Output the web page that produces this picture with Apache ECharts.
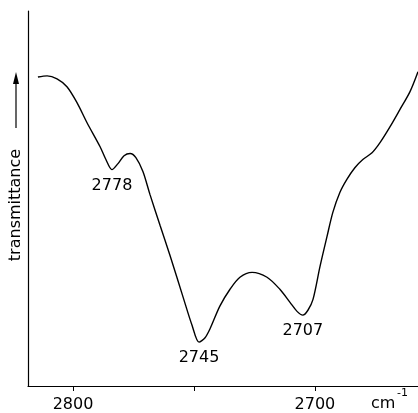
<!DOCTYPE html>
<html><head><meta charset="utf-8">
<script src="https://cdn.jsdelivr.net/npm/echarts@6/dist/echarts.min.js"></script>
<style>html,body{margin:0;padding:0;background:#fff}#c{width:418px;height:413px}</style>
</head><body><div id="c"></div>
<script>
// wavenumber (cm-1) and relative transmittance
const wavenumbers = [2814.5,2810.7,2806.6,2802.5,2798.3,2794.2,2788.8,2786.4,2783.9,2781.4,2778.9,2776.4,2774.0,2771.1,2768.2,2764.0,2759.9,2754.5,2750.8,2747.9,2745.5,2743.4,2739.3,2735.1,2731.0,2726.0,2719.8,2714.5,2710.3,2707.4,2705.0,2702.9,2700.8,2697.9,2695.0,2692.6,2689.7,2686.8,2683.5,2680.2,2676.4,2673.1,2669.0,2664.9,2660.7,2657.4];
const transmittance = [82.4,82.7,81.9,79.8,75.5,70.2,63.8,60.4,57.7,59.3,61.4,62.0,60.9,57.2,51.1,42.8,34.8,23.7,16.2,11.7,12.8,15.2,21.3,25.8,29.0,30.3,29.0,25.8,22.3,19.9,18.9,20.2,23.1,31.9,39.9,46.3,51.6,55.1,58.2,60.4,62.2,64.9,69.1,73.7,78.5,83.8];
const tickValues = [2800, 2750, 2700];
const tickLabels = [2800, 2700];
const bandLabels = ['2778', '2745', '2707'];
const bandPos = [[2783.9, 57.7], [2747.9, 11.7], [2705.0, 18.9]];

const chart = echarts.init(document.getElementById('c'), null, {renderer: 'canvas'});
const font = 'DejaVu Sans';
chart.setOption({
  animation: false,
  backgroundColor: '#fff',
  grid: {left: 28, right: 0, top: 11, bottom: 26},
  xAxis: {
    type: 'value', inverse: true, min: 2657.4, max: 2818.6,
    axisLine: {lineStyle: {color: '#000', width: 1.2}},
    axisTick: {show: true, length: 5, customValues: tickValues, lineStyle: {color: '#000'}},
    axisLabel: {customValues: tickLabels, formatter: v => String(v), color: '#000', fontFamily: font, fontSize: 16, margin: 11},
    splitLine: {show: false}
  },
  yAxis: {
    type: 'value', min: 0, max: 100,
    axisLine: {show: true, lineStyle: {color: '#000', width: 1.2}},
    axisTick: {show: false}, axisLabel: {show: false}, splitLine: {show: false}
  },
  series: [{
    type: 'line', smooth: 0.3, showSymbol: false,
    data: wavenumbers.map((w, i) => [w, transmittance[i]]),
    lineStyle: {color: '#000', width: 1.4},
    markPoint: {
      symbol: 'circle', symbolSize: 0,
      data: bandLabels.map((t, i) => ({coord: bandPos[i], value: t})),
      label: {show: true, position: 'bottom', distance: 8, formatter: p => p.value,
        color: '#000', fontFamily: font, fontSize: 16}
    }
  }],
  graphic: [
    {type: 'text', x: 16, y: 205, rotation: Math.PI / 2,
     style: {text: 'transmittance', fontFamily: font, fontSize: 16, fill: '#000', align: 'center', verticalAlign: 'middle'}},
    {type: 'line', shape: {x1: 16, y1: 128, x2: 16, y2: 80}, style: {stroke: '#000', lineWidth: 1.2}},
    {type: 'polygon', shape: {points: [[16, 72], [13, 84], [19, 84]]}, style: {fill: '#000'}},
    {type: 'text', x: 371, y: 404,
     style: {text: 'cm', fontFamily: font, fontSize: 16, fill: '#000', verticalAlign: 'middle'}},
    {type: 'text', x: 397, y: 393,
     style: {text: '-1', fontFamily: font, fontSize: 11, fill: '#000', verticalAlign: 'middle'}}
  ]
});
</script></body></html>
